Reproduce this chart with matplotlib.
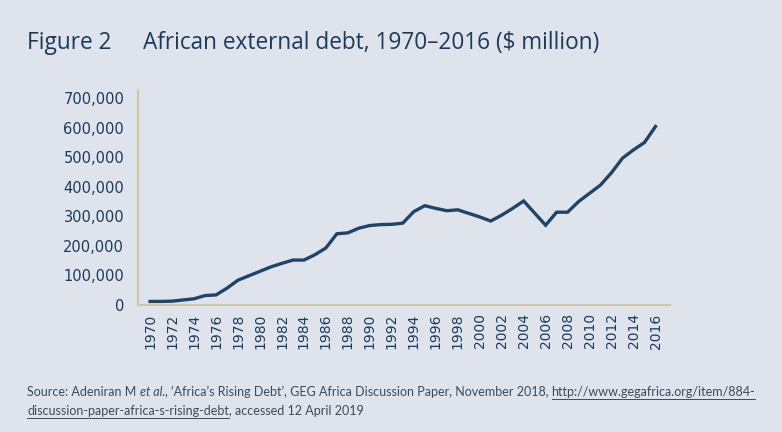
import matplotlib.pyplot as plt
import matplotlib.ticker as mticker

BG = '#dfe4ec'
NAVY = '#1c3a5c'
LINE = '#1f4468'
SPINE = '#d3c6a4'
TEXT = '#3a4a5c'

years = list(range(1970, 2017))
debt = [12000, 12000, 13000, 17000, 21000, 32000, 34000, 57000, 84000, 99000,
        114000, 129000, 141000, 152000, 152000, 170000, 193000, 241000, 244000, 260000,
        269000, 272000, 273000, 277000, 316000, 336000, 327000, 319000, 322000, 310000,
        298000, 284000, 304000, 327000, 352000, 311000, 270000, 314000, 314000, 350000,
        378000, 406000, 448000, 497000, 525000, 550000, 604000]
yticks = [0, 100000, 200000, 300000, 400000, 500000, 600000, 700000]
xticks = list(range(1970, 2017, 2))

plt.rcParams['font.family'] = ['Lato', 'DejaVu Sans']

fig = plt.figure(figsize=(7.82, 4.32), dpi=100, facecolor=BG)
ax = fig.add_axes([0.1765, 0.294, 0.68, 0.498])
ax.set_facecolor(BG)

ax.plot(years, debt, color=LINE, lw=2.4, solid_joinstyle='miter')

ax.set_xlim(1968.9, 2017.3)
ax.set_ylim(0, 728000)
ax.set_xticks(xticks)
ax.set_yticks(yticks)
ax.yaxis.set_major_formatter(mticker.FuncFormatter(lambda v, p: f'{int(v):,}'))
ax.tick_params(axis='x', rotation=90, length=0, pad=6, labelcolor=NAVY)
ax.tick_params(axis='y', length=0, pad=10, labelcolor=NAVY)
for lab in ax.get_xticklabels():
    lab.set_va('top')
    lab.set_family('DejaVu Sans')
    lab.set_fontsize(10)
for lab in ax.get_yticklabels():
    lab.set_family('DejaVu Sans')
    lab.set_fontsize(10.5)

for s in ['top', 'right']:
    ax.spines[s].set_visible(False)
for s in ['left', 'bottom']:
    ax.spines[s].set_color(SPINE)
    ax.spines[s].set_linewidth(1.5)

fig.text(27 / 782, 1 - 43 / 432, 'Figure 2', fontsize=16.3, color=NAVY, va='center',
         family='Open Sans')
fig.text(143 / 782, 1 - 43 / 432, 'African external debt, 1970\u20132016 ($ million)',
         fontsize=16.3, color=NAVY, va='center', family='Open Sans')

# source line, drawn piece by piece so the link can be underlined
fig.canvas.draw()
rend = fig.canvas.get_renderer()


def write_row(parts, x0, y0):
    x = x0
    for txt, style, under in parts:
        t = fig.text(x, y0, txt, fontsize=9, color=TEXT, style=style,
                     transform=None, va='baseline')
        bb = t.get_window_extent(rend)
        if under:
            fig.add_artist(plt.Line2D([bb.x0, bb.x1], [y0 - 2.5, y0 - 2.5],
                                      transform=None, color=TEXT, lw=0.7))
        x = bb.x1


write_row([('Source: Adeniran M ', 'normal', False),
           ('et al.', 'italic', False),
           (", \u2018Africa\u2019s Rising Debt\u2019, GEG Africa Discussion Paper, November 2018, ", 'normal', False),
           ('http://www.gegafrica.org/item/884-', 'normal', True)],
          27, 432 - 396)
write_row([('discussion-paper-africa-s-rising-debt', 'normal', True),
           (', accessed 12 April 2019', 'normal', False)],
          27, 432 - 415)

fig.savefig('out.png', dpi=100, facecolor=BG)
